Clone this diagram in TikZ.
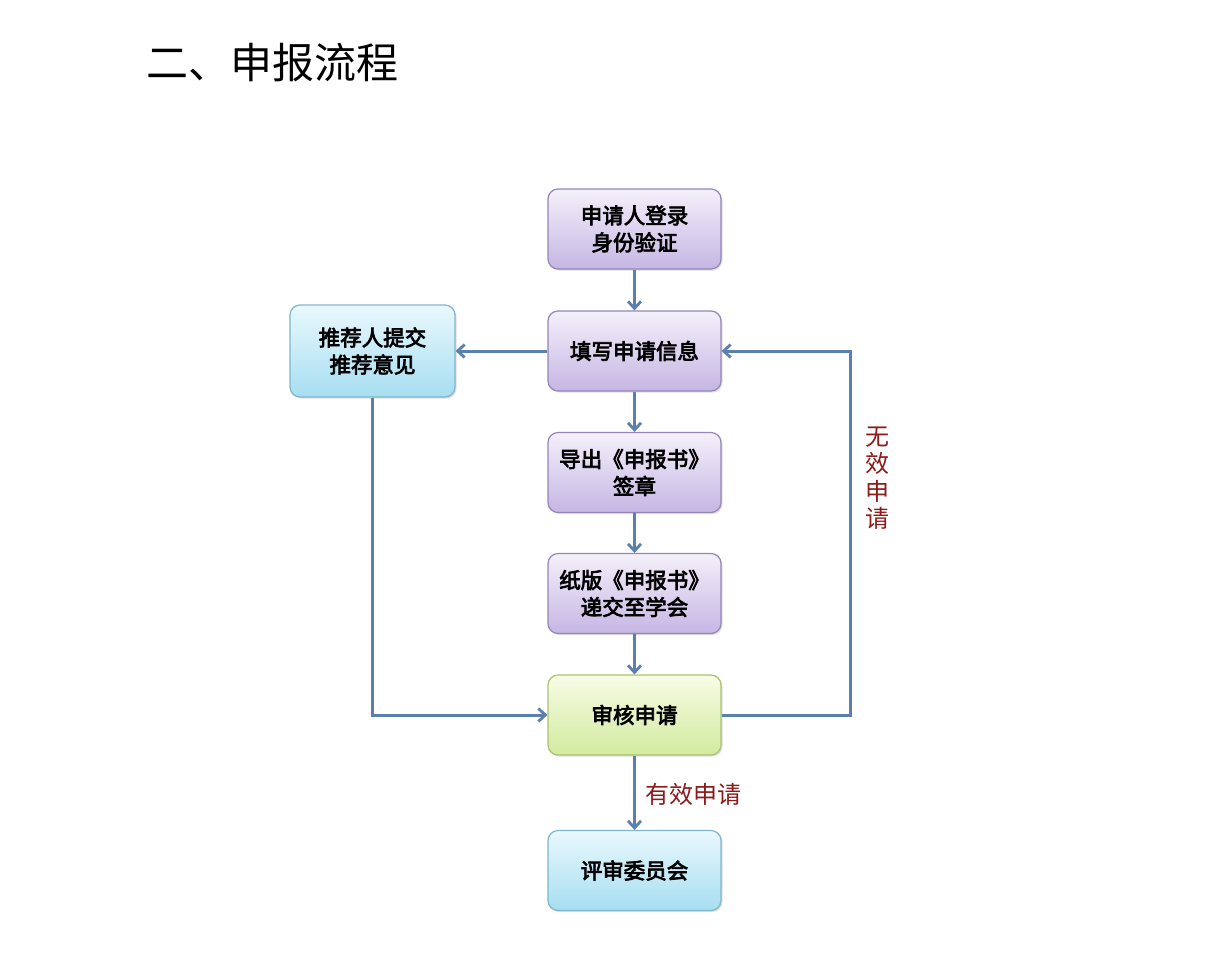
\documentclass[tikz,border=0pt]{standalone}
\usepackage{fontspec}
\newfontfamily\cjk{Noto Sans CJK SC}[AutoFakeBold=3.5]
\usetikzlibrary{arrows.meta,shadows}
\definecolor{arrowc}{HTML}{5A80B0}
\definecolor{redlab}{HTML}{8B1A1A}
\tikzset{
  box/.style={rounded corners=10pt, minimum width=173pt, minimum height=80pt, align=center,
     font=\cjk\bfseries\fontsize{21.5pt}{27pt}\selectfont, inner sep=0pt,
     drop shadow={shadow xshift=1.5pt,shadow yshift=-1.5pt,opacity=0.25}},
  purplebox/.style={box, draw=purpdraw, line width=1.2pt, top color=purptop, bottom color=purpbot},
  bluebox/.style={box, draw=bluedraw, line width=1.2pt, top color=bluetop, bottom color=bluebot},
  greenbox/.style={box, draw=greendraw, line width=1.2pt, top color=greentop, bottom color=greenbot},
  conn/.style={draw=arrowc, line width=3pt, -{Straight Barb[length=7pt,width=13pt,line width=2.8pt]}},
  lab/.style={text=redlab, font=\cjk\fontsize{24pt}{28pt}\selectfont, inner sep=0pt},
}
\definecolor{purpdraw}{HTML}{9585B8}
\definecolor{purptop}{HTML}{F4F0FA}
\definecolor{purpbot}{HTML}{C6B6E4}
\definecolor{bluedraw}{HTML}{7FB6CC}
\definecolor{bluetop}{HTML}{EAF8FD}
\definecolor{bluebot}{HTML}{A6DEF1}
\definecolor{greendraw}{HTML}{ABC26E}
\definecolor{greentop}{HTML}{F8FCE6}
\definecolor{greenbot}{HTML}{D2EA9F}
\begin{document}
\begin{tikzpicture}[x=1pt,y=-1pt]
\useasboundingbox[fill=white] (0,0) rectangle (1214,956);
\node[anchor=west, font=\cjk\fontsize{42pt}{46pt}\selectfont, inner sep=0pt] (title) at (146,63) {二、申报流程};
\node[purplebox] (login) at (634.5,229) {申请人登录\\身份验证};
\node[purplebox] (fill) at (634.5,351) {填写申请信息};
\node[purplebox] (export) at (634.5,472.5) {导出《申报书》\\签章};
\node[purplebox] (paper) at (634.5,593.5) {纸版《申报书》\\递交至学会};
\node[greenbox] (review) at (634.5,715) {审核申请};
\node[bluebox] (committee) at (634.5,870.5) {评审委员会};
\node[bluebox, minimum width=165pt, minimum height=92pt] (recom) at (372.5,351) {推荐人提交\\推荐意见};
\coordinate (rt) at (850,351);
\coordinate (rb) at (850,715);
\coordinate (lb) at (372.5,715);
\draw[conn] (login) -- (fill);
\draw[conn] (fill) -- (export);
\draw[conn] (export) -- (paper);
\draw[conn] (paper) -- (review);
\draw[conn] (review) -- node[lab, anchor=west, xshift=9pt, yshift=-2pt] (valid) {有效申请} (committee);
\draw[conn] (fill) -- (recom);
\draw[conn] (recom) -- (lb) -- (review);
\draw[conn] (review) -- (rb) -- (rt) -- (fill);
\node[lab, align=center, font=\cjk\fontsize{24pt}{27.5pt}\selectfont] (invalid) at (877,478) {无\\效\\申\\请};
\end{tikzpicture}
\end{document}
